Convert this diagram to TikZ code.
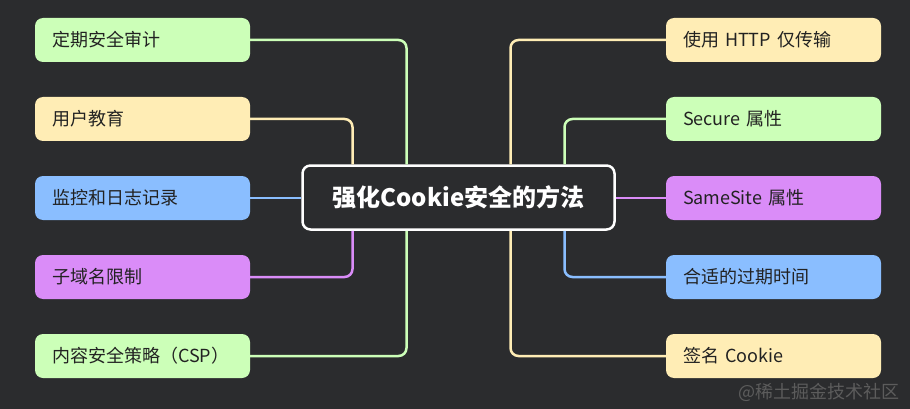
\documentclass[tikz,border=0pt]{standalone}
\usepackage{fontspec}
\setmainfont{Noto Sans CJK SC}
\usepackage{color}
\definecolor{Backdrop}{HTML}{2B2C2E}
\definecolor{LeafGreen}{HTML}{CCFFB8}
\definecolor{LeafYellow}{HTML}{FFEDB5}
\definecolor{LeafBlue}{HTML}{8ABEFF}
\definecolor{LeafPurple}{HTML}{DA8CF8}
\definecolor{LeafText}{HTML}{222222}
\definecolor{Watermark}{HTML}{5C5C5C}

\tikzset{
  leaf/.style={rounded corners=8pt, minimum height=44pt, text width=181pt,
    align=left, inner xsep=17pt, inner ysep=0pt, text=LeafText,
    font=\fontsize{18}{20}\selectfont},
  branch/.style={line width=2.5pt, rounded corners=8pt},
}

\begin{document}
\begin{tikzpicture}[x=1pt,y=-1pt]
        \fill[Backdrop] (0,0) rectangle (910,409);
        \useasboundingbox (0,0) rectangle (910,409);
        % centre
        \node[draw=white, line width=2.5pt, fill=Backdrop, rounded corners=8pt,
          minimum width=312pt, minimum height=64pt, text=white,
          font=\fontsize{24}{27}\selectfont\bfseries] (root) at (458.5,197.5) {强化Cookie安全的方法};
        % left
        \node[leaf, fill=LeafGreen] (audit) at (142.5,40) {定期安全审计};
        \node[leaf, fill=LeafYellow] (edu) at (142.5,119) {用户教育};
        \node[leaf, fill=LeafBlue] (monitor) at (142.5,198) {监控和日志记录};
        \node[leaf, fill=LeafPurple] (subdomain) at (142.5,277) {子域名限制};
        \node[leaf, fill=LeafGreen] (csp) at (142.5,356) {内容安全策略（CSP）};
        % right
        \node[leaf, fill=LeafYellow] (httponly) at (773.5,40) {使用 HTTP 仅传输};
        \node[leaf, fill=LeafGreen] (secure) at (773.5,119) {Secure 属性};
        \node[leaf, fill=LeafPurple] (samesite) at (773.5,198) {SameSite 属性};
        \node[leaf, fill=LeafBlue] (expiry) at (773.5,277) {合适的过期时间};
        \node[leaf, fill=LeafYellow] (signed) at (773.5,356) {签名 Cookie};
        % branches
        \draw[branch, LeafGreen] (audit.east) -| ([xshift=-52pt]root.north);
        \draw[branch, LeafYellow] (edu.east) -| ([xshift=-106pt]root.north);
        \draw[branch, LeafBlue] (monitor.east) -- (monitor.east -| root.west);
        \draw[branch, LeafPurple] (subdomain.east) -| ([xshift=-106pt]root.south);
        \draw[branch, LeafGreen] (csp.east) -| ([xshift=-52pt]root.south);
        \draw[branch, LeafYellow] (httponly.west) -| ([xshift=52pt]root.north);
        \draw[branch, LeafGreen] (secure.west) -| ([xshift=106pt]root.north);
        \draw[branch, LeafPurple] (samesite.west) -- (samesite.west -| root.east);
        \draw[branch, LeafBlue] (expiry.west) -| ([xshift=106pt]root.south);
        \draw[branch, LeafYellow] (signed.west) -| ([xshift=52pt]root.south);
        % watermark
        \node[text=Watermark, font=\fontsize{18}{20}\selectfont, anchor=east] (mark) at (903,392) {@稀土掘金技术社区};
\end{tikzpicture}
\end{document}
